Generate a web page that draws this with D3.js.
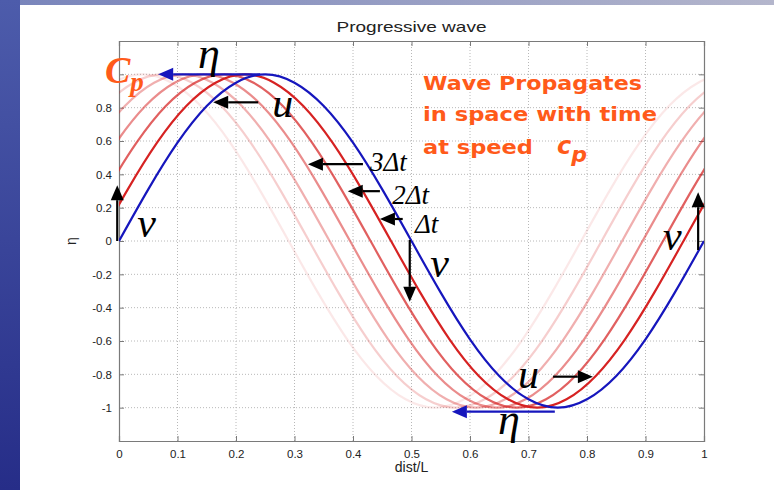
<!DOCTYPE html>
<html>
<head>
<meta charset="utf-8">
<script src="https://cdn.jsdelivr.net/npm/d3@7"></script>
<style>
  body { margin: 0; background: #fff; }
  svg { display: block; }
</style>
</head>
<body>
<div id="chart-area"></div>
<script>
// waveform (dist/L vs eta)
const waveX   = [0, 0.05, 0.1, 0.15, 0.2, 0.25, 0.3, 0.35, 0.4, 0.45, 0.5,
                 0.55, 0.6, 0.65, 0.7, 0.75, 0.8, 0.85, 0.9, 0.95, 1];
const waveEta = [0, 0.31, 0.59, 0.81, 0.95, 1, 0.95, 0.81, 0.59, 0.31, 0,
                 -0.31, -0.59, -0.81, -0.95, -1, -0.95, -0.81, -0.59, -0.31, 0];

// earlier snapshots: shifted left, faintest first
const redShifts  = [0.21, 0.175, 0.14, 0.105, 0.07, 0.035];
const redOpacity = [0.1, 0.22, 0.36, 0.52, 0.72, 1];

const xTicks = [0, 0.1, 0.2, 0.3, 0.4, 0.5, 0.6, 0.7, 0.8, 0.9, 1];
const yTicks = [-1, -0.8, -0.6, -0.4, -0.2, 0, 0.2, 0.4, 0.6, 0.8, 1];

const margin = { top: 41, right: 70, bottom: 49, left: 119 };
const W = 774, H = 490;
const width = W - margin.left - margin.right;
const height = H - margin.top - margin.bottom;

const BLUE = '#1616bd';
const RED = '#d62222';
const ORANGE = '#ff5a1a';

const svg = d3.select('#chart-area').append('svg')
  .attr('width', W)
  .attr('height', H);

// slide background
const defs = svg.append('defs');
const lg = defs.append('linearGradient').attr('id', 'side')
  .attr('x1', 0).attr('y1', 0).attr('x2', 0).attr('y2', 1);
lg.append('stop').attr('offset', '0%').attr('stop-color', '#4d5cab');
lg.append('stop').attr('offset', '100%').attr('stop-color', '#262d88');
const tg = defs.append('linearGradient').attr('id', 'topbar')
  .attr('x1', 0).attr('y1', 0).attr('x2', 1).attr('y2', 0);
tg.append('stop').attr('offset', '0%').attr('stop-color', '#7884bb');
tg.append('stop').attr('offset', '100%').attr('stop-color', '#b4b6cc');
defs.append('clipPath').attr('id', 'plotclip')
  .append('rect').attr('width', width).attr('height', height);

svg.append('rect').attr('width', W).attr('height', H).attr('fill', '#fff');
svg.append('rect').attr('width', W).attr('height', 5).attr('fill', 'url(#topbar)');
svg.append('rect').attr('width', 20).attr('height', H).attr('fill', 'url(#side)');

const g = svg.append('g')
  .attr('transform', `translate(${margin.left}, ${margin.top})`);

const x = d3.scaleLinear().domain([0, 1]).range([0, width]);
const y = d3.scaleLinear().domain([-1.2, 1.2]).range([height, 0]);

// grid
g.append('g').selectAll('line').data(xTicks.slice(1, -1)).enter().append('line')
  .attr('x1', d => x(d)).attr('x2', d => x(d))
  .attr('y1', 0).attr('y2', height)
  .attr('stroke', '#b8b8b8').attr('stroke-dasharray', '1,2');
g.append('g').selectAll('line').data(yTicks).enter().append('line')
  .attr('x1', 0).attr('x2', width)
  .attr('y1', d => y(d)).attr('y2', d => y(d))
  .attr('stroke', '#b8b8b8').attr('stroke-dasharray', '1,2');

// axes (ticks pointing inward, matlab box); plain hyphen for negatives
const num = d => String(d);
g.append('g').attr('transform', `translate(0, ${height})`)
  .call(d3.axisBottom(x).tickValues(xTicks).tickSize(-5).tickPadding(9).tickFormat(num));
g.append('g')
  .call(d3.axisLeft(y).tickValues(yTicks).tickSize(-5).tickPadding(7)
    .tickFormat(d => d === 1 ? '' : num(d)));
g.append('g')
  .call(d3.axisTop(x).tickValues(xTicks).tickSize(-5).tickFormat(''));
g.append('g').attr('transform', `translate(${width}, 0)`)
  .call(d3.axisRight(y).tickValues(yTicks).tickSize(-5).tickFormat(''));
g.selectAll('.domain').attr('stroke', '#7a7a7a').attr('stroke-width', 1.2);
g.selectAll('.tick line').attr('stroke', '#7a7a7a');
g.selectAll('.tick text')
  .attr('font-family', 'Liberation Sans, Arial, sans-serif')
  .attr('font-size', '11.5px').attr('fill', '#222');

// curves: same waveform translated left by each shift, repeated one period
const periodPts = waveX.map((d, i) => ({ x: d, eta: waveEta[i] }))
  .concat(waveX.slice(1).map((d, i) => ({ x: d + 1, eta: waveEta[i + 1] })));

const line = d3.line().curve(d3.curveNatural);
const curves = g.append('g').attr('clip-path', 'url(#plotclip)');

redShifts.forEach((s, i) => {
  curves.append('path')
    .attr('d', line(periodPts.map(p => [x(p.x - s), y(p.eta)])))
    .attr('fill', 'none')
    .attr('stroke', RED)
    .attr('stroke-opacity', redOpacity[i])
    .attr('stroke-width', 2.2);
});
curves.append('path')
  .attr('d', line(waveX.map((d, i) => [x(d), y(waveEta[i])])))
  .attr('fill', 'none')
  .attr('stroke', BLUE)
  .attr('stroke-width', 2.2);

// titles
svg.append('text')
  .attr('x', margin.left + width / 2).attr('y', 32)
  .attr('text-anchor', 'middle')
  .attr('font-family', 'Liberation Sans, Arial, sans-serif')
  .attr('font-size', '15px').attr('fill', '#222')
  .attr('textLength', 150).attr('lengthAdjust', 'spacingAndGlyphs')
  .text('Progressive wave');
svg.append('text')
  .attr('x', margin.left + width / 2).attr('y', 472)
  .attr('text-anchor', 'middle')
  .attr('font-family', 'Liberation Sans, Arial, sans-serif')
  .attr('font-size', '14px').attr('fill', '#222')
  .text('dist/L');
svg.append('text')
  .attr('transform', `translate(76, ${margin.top + y(0)}) rotate(-90)`)
  .attr('text-anchor', 'middle')
  .attr('font-family', 'Liberation Sans, Arial, sans-serif')
  .attr('font-size', '14px').attr('fill', '#222')
  .text('η');

// annotation arrows (data coords: tail -> tip)
const arrows = [
  { x1: 0.241, y1: 1.0,    x2: 0.067, y2: 1.0,    c: BLUE },
  { x1: 0.238, y1: 0.832,  x2: 0.161, y2: 0.832,  c: '#000' },
  { x1: -0.003, y1: 0.0,   x2: -0.003, y2: 0.335, c: '#000' },
  { x1: 0.417, y1: 0.461,  x2: 0.323, y2: 0.461,  c: '#000' },
  { x1: 0.446, y1: 0.299,  x2: 0.391, y2: 0.299,  c: '#000' },
  { x1: 0.485, y1: 0.132,  x2: 0.446, y2: 0.132,  c: '#000' },
  { x1: 0.497, y1: 0.006,  x2: 0.497, y2: -0.365, c: '#000' },
  { x1: 0.742, y1: -0.814, x2: 0.810, y2: -0.814, c: '#000' },
  { x1: 0.745, y1: -1.024, x2: 0.569, y2: -1.024, c: BLUE },
  { x1: 0.990, y1: -0.054, x2: 0.990, y2: 0.293,  c: '#000' }
];
const ann = g.append('g');
arrows.forEach(a => {
  const X1 = x(a.x1), Y1 = y(a.y1), X2 = x(a.x2), Y2 = y(a.y2);
  const ang = Math.atan2(Y2 - Y1, X2 - X1);
  const hl = 15, hw = 6.5;
  const bx = X2 - hl * Math.cos(ang), by = Y2 - hl * Math.sin(ang);
  ann.append('line')
    .attr('x1', X1).attr('y1', Y1).attr('x2', bx).attr('y2', by)
    .attr('stroke', a.c).attr('stroke-width', 2.2);
  ann.append('path')
    .attr('d', `M${X2},${Y2}L${bx - hw * Math.sin(ang)},${by + hw * Math.cos(ang)}` +
               `L${bx + hw * Math.sin(ang)},${by - hw * Math.cos(ang)}Z`)
    .attr('fill', a.c);
});

// annotation symbols
const symbols = [
  { x: 0.135, y: 1.036,  t: 'η',  size: 44 },
  { x: 0.262, y: 0.743,  t: 'u',  size: 42 },
  { x: 0.031, y: 0.024,  t: 'v',  size: 42 },
  { x: 0.429, y: 0.419,  t: '3Δt', size: 27 },
  { x: 0.467, y: 0.222,  t: '2Δt', size: 27 },
  { x: 0.506, y: 0.050,  t: 'Δt', size: 27 },
  { x: 0.532, y: -0.216, t: 'v',  size: 42 },
  { x: 0.682, y: -0.880, t: 'u',  size: 42 },
  { x: 0.648, y: -1.156, t: 'η',  size: 44 },
  { x: 0.930, y: -0.054, t: 'v',  size: 42 }
];
ann.selectAll('text.sym').data(symbols).enter().append('text')
  .attr('class', 'sym')
  .attr('x', d => x(d.x)).attr('y', d => y(d.y))
  .attr('font-family', 'Liberation Serif, Times New Roman, serif')
  .attr('font-style', 'italic')
  .attr('font-size', d => d.size + 'px')
  .attr('fill', '#000')
  .text(d => d.t);

// C_p label
const cp = ann.append('text')
  .attr('x', x(-0.024)).attr('y', y(0.946))
  .attr('font-family', 'Liberation Serif, Times New Roman, serif')
  .attr('font-style', 'italic').attr('font-weight', 'bold')
  .attr('fill', ORANGE);
cp.append('tspan').attr('font-size', '38px').text('C');
cp.append('tspan').attr('font-size', '27px').attr('dy', 8).text('p');

// orange explanation
const note = svg.append('g')
  .attr('font-family', 'DejaVu Sans, sans-serif')
  .attr('font-weight', 'bold')
  .attr('fill', ORANGE);
note.append('text').attr('x', 423).attr('y', 90).attr('font-size', '19px')
  .attr('textLength', 219).attr('lengthAdjust', 'spacingAndGlyphs')
  .text('Wave Propagates');
note.append('text').attr('x', 423).attr('y', 121).attr('font-size', '19px')
  .attr('textLength', 234).attr('lengthAdjust', 'spacingAndGlyphs')
  .text('in space with time');
note.append('text').attr('x', 423).attr('y', 154).attr('font-size', '19px')
  .attr('textLength', 110).attr('lengthAdjust', 'spacingAndGlyphs')
  .text('at speed');
const cs = note.append('text').attr('x', 557).attr('y', 154)
  .attr('font-style', 'italic');
cs.append('tspan').attr('font-size', '24px').text('c');
cs.append('tspan').attr('font-size', '22px').attr('dy', 8).text('p');
</script>
</body>
</html>
